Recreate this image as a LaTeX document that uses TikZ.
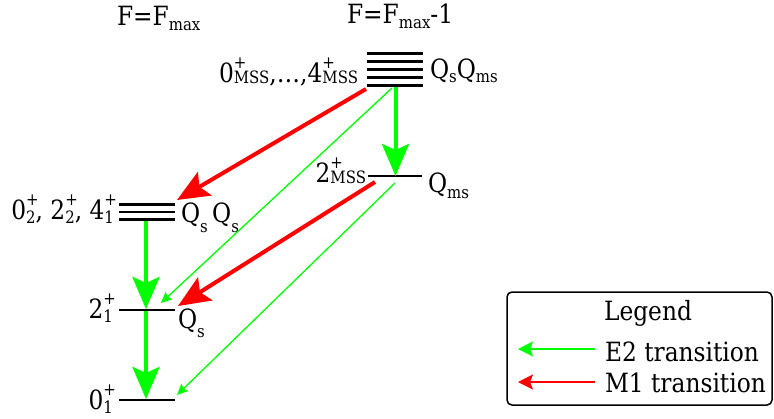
\documentclass[tikz,border=0pt]{standalone}
\usepackage{fontspec}
\setmainfont{DejaVu Serif}[FakeStretch=0.88]
\usetikzlibrary{arrows.meta}
\definecolor{egreen}{RGB}{0,255,0}
\definecolor{mred}{RGB}{255,0,0}
\newcommand\subsz{\fontsize{17}{18}\selectfont}
\newcommand\lv[4][0.12em]{#2\rlap{\raisebox{0.5em}{\subsz #3}}\raisebox{-#1}{\subsz #4}}
\newcommand\sbx[2]{\raisebox{-#1}{\subsz #2}}
\begin{document}
\begin{tikzpicture}[x=1pt,y=-1pt,
  every node/.style={font=\fontsize{26.5}{30}\selectfont, inner sep=0pt, outer sep=0pt},
  lvl/.style={line width=2.6pt},
  bige2/.style={draw=egreen, line width=4pt, -{Stealth[length=32pt,width=27pt,inset=6pt]}},
  thine2/.style={draw=egreen, line width=1.3pt, -{Stealth[length=11pt,width=10pt,inset=2pt]}},
  bigm1/.style={draw=mred, line width=4pt, -{Stealth[length=32pt,width=27pt,inset=6pt]}},
  legarr/.style={line width=1.5pt, -{Stealth[length=15pt,width=15pt,inset=3pt]}},
]
\useasboundingbox (0,0) rectangle (774,418);
% headers
\node[anchor=base west] (hl) at (117,25) {F=F\sbx{5pt}{max}};
\node[anchor=base west] (hr) at (347,23) {F=F\sbx{5pt}{max}-1};
% top multiplet
\foreach \yy in {53.5,61.5,69.5,77.5,85.5} \draw[lvl] (367,\yy) -- (423,\yy);
\node[anchor=base east] (ltop) at (358,82) {\lv[0.07em]{0}{+}{MSS},\ldots,\lv[0.07em]{4}{+}{MSS}};
\node[anchor=base west] (qtop) at (430,78) {Q\sbx{4pt}{s}Q\sbx{4pt}{ms}};
% second multiplet
\foreach \yy in {204.5,212,219.5} \draw[lvl] (119,\yy) -- (175,\yy);
\node[anchor=base east] (lmid) at (114,219) {\lv[0.16em]{0}{+}{2}, \lv[0.16em]{2}{+}{2}, \lv[0.16em]{4}{+}{1}};
\node[anchor=base west] (qmid) at (181,222) {Q\sbx{10pt}{s}\,Q\sbx{10pt}{s}};
% 2+ MSS
\draw[lvl] (368,176) -- (422,176);
\node[anchor=base east] (lmss) at (366,182) {\lv[0.07em]{2}{+}{MSS}};
\node[anchor=base west] (qmss) at (428,192) {Q\sbx{6pt}{ms}};
% 2+_1
\draw[lvl] (119,310) -- (175,310);
\node[anchor=base east] (l21) at (113,318) {\lv[0.16em]{2}{+}{1}};
\node[anchor=base west] (q21) at (178,328) {Q\sbx{9pt}{s}};
% 0+_1
\draw[lvl] (119,400) -- (175,400);
\node[anchor=base east] (l01) at (113,409) {\lv[0.16em]{0}{+}{1}};
% connector end points
\coordinate (topA) at (395.5,86.5);
\coordinate (topR) at (366,89);
\coordinate (topG) at (392,88);
\coordinate (mssT) at (395.5,176);
\coordinate (mssR) at (375,182);
\coordinate (mssG) at (395,183);
\coordinate (midR) at (177,200);
\coordinate (midB) at (146,221);
\coordinate (s1T) at (146,309);
\coordinate (s1B) at (146,311);
\coordinate (s1G) at (161,303);
\coordinate (s1R) at (178,306);
\coordinate (g0T) at (146,399);
\coordinate (g0G) at (177,395);
% transitions
\draw[thine2] (topG) -- (s1G);
\draw[thine2] (mssG) -- (g0G);
\draw[bige2] (topA) -- (mssT);
\draw[bige2] (midB) -- (s1T);
\draw[bige2] (s1B) -- (g0T);
\draw[bigm1] (topR) -- (midR);
\draw[bigm1] (mssR) -- (s1R);
% legend
\node[draw, line width=1.5pt, rounded corners=5pt, minimum width=265pt, minimum height=113pt] (leg) at (639.5,348.5) {};
\node[anchor=base] (legt) at (648,320) {Legend};
\node[anchor=base west] (le2) at (605,361) {E2 transition};
\node[anchor=base west] (lm1) at (605,392) {M1 transition};
\coordinate (e2a) at (595,349);
\coordinate (e2b) at (518,349);
\coordinate (m1a) at (595,382);
\coordinate (m1b) at (518,382);
\draw[legarr, draw=egreen] (e2a) -- (e2b);
\draw[legarr, draw=mred] (m1a) -- (m1b);
\end{tikzpicture}
\end{document}
